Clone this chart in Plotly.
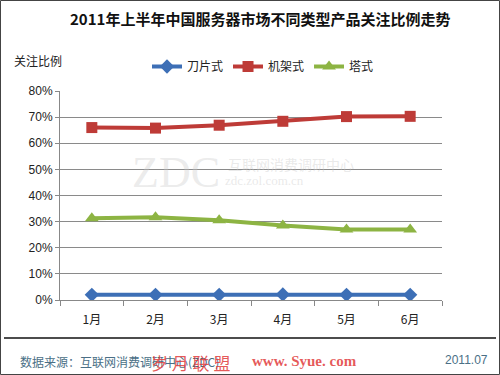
import plotly.graph_objects as go

months = ["1月", "2月", "3月", "4月", "5月", "6月"]
blade = [0.02, 0.02, 0.02, 0.021, 0.02, 0.02]
rack = [0.66, 0.658, 0.669, 0.684, 0.702, 0.703]
tower = [0.313, 0.317, 0.305, 0.285, 0.27, 0.27]
series_names = ["刀片式", "机架式", "塔式"]
yticks = [0, 0.1, 0.2, 0.3, 0.4, 0.5, 0.6, 0.7, 0.8]

CJK = "Noto Sans CJK SC, Liberation Sans, sans-serif"
LAT = "Liberation Sans, Noto Sans CJK SC, sans-serif"

fig = go.Figure()
styles = [
    (blade, "#3d6fb6", "diamond", 11),
    (rack, "#be3b37", "square", 11),
    (tower, "#8db443", "triangle-up", 12),
]
for name, (vals, col, sym, sz) in zip(series_names, styles):
    fig.add_trace(go.Scatter(
        x=months, y=vals, name=name, mode="lines+markers",
        line=dict(color=col, width=4),
        marker=dict(symbol=sym, size=sz, color=col),
    ))

L, R, T, B = 60, 442, 91, 300
W, H = R - L, B - T

def px(x):
    return (x - L) / W

def py(y):
    return (B - y) / H

fig.update_layout(
    width=500, height=375,
    margin=dict(l=L, r=500 - R, t=T, b=375 - B),
    paper_bgcolor="white", plot_bgcolor="white",
    showlegend=True,
    legend=dict(orientation="h", x=px(147), y=py(52), xanchor="left", yanchor="top",
                font=dict(family=CJK, size=12, color="#222"), bgcolor="rgba(0,0,0,0)",
                itemwidth=30, tracegroupgap=0),
    font=dict(family=LAT, size=12, color="#222"),
)
fig.update_xaxes(
    type="category", range=[-0.5, 5.5], showgrid=False,
    showline=True, linecolor="#888", linewidth=1,
    ticks="outside", tickson="boundaries", ticklen=5, tickcolor="#888",
    tickfont=dict(family=CJK, size=12, color="#222"), ticklabelstandoff=9,
)
fig.update_yaxes(
    range=[0, 0.8], tickvals=yticks, tickformat=".0%",
    showgrid=True, gridcolor="#8a8a8a", gridwidth=1,
    showline=True, linecolor="#888", linewidth=1,
    ticks="outside", ticklen=4, tickcolor="#888",
    tickfont=dict(family=LAT, size=12, color="#222"), zeroline=False,
)

shapes = [
    dict(type="rect", xref="paper", yref="paper", x0=px(0.5), x1=px(499.5), y0=py(374.5), y1=py(0.5),
         line=dict(color="#444", width=1), layer="below"),
    dict(type="line", xref="paper", yref="paper", x0=px(4), x1=px(496), y0=py(338), y1=py(338),
         line=dict(color="#111", width=1.5)),
]
fig.update_layout(shapes=shapes)

ann = [
    dict(text="<b>2011年上半年中国服务器市场不同类型产品关注比例走势</b>", x=px(260), y=py(18),
         font=dict(family=CJK, size=15, color="#111")),
    dict(text="关注比例", x=px(38), y=py(60), font=dict(family=CJK, size=12, color="#222")),
    dict(text="ZDC", x=px(176), y=py(172), font=dict(family="Liberation Serif, serif", size=44, color="rgba(200,200,200,0.35)")),
    dict(text="互联网消费调研中心", x=px(291), y=py(164), font=dict(family=CJK, size=14, color="rgba(200,200,200,0.4)")),
    dict(text="zdc.zol.com.cn", x=px(264), y=py(180), font=dict(family="Liberation Serif, serif", size=13, color="rgba(200,200,200,0.4)")),
    dict(text="数据来源：互联网消费调研中心(ZDC)", x=px(18), y=py(361), xanchor="left",
         font=dict(family=CJK, size=12, color="#4a6f86")),
    dict(text="2011.07", x=px(466), y=py(360), font=dict(family=LAT, size=12, color="#4a6f86")),
    dict(text="岁 月 联 盟", x=px(190), y=py(362), font=dict(family=CJK, size=17, color="rgba(225,60,60,0.85)")),
    dict(text="<b>www. Syue. com</b>", x=px(304), y=py(361), font=dict(family="Liberation Serif, serif", size=15, color="rgba(225,60,60,0.85)")),
]
for a in ann:
    a.setdefault("xanchor", "center")
    fig.add_annotation(xref="paper", yref="paper", showarrow=False, yanchor="middle", **a)

fig.write_html("out.html", config={"displayModeBar": False},
               post_script="document.body.style.margin='0';document.body.style.padding='0';")
